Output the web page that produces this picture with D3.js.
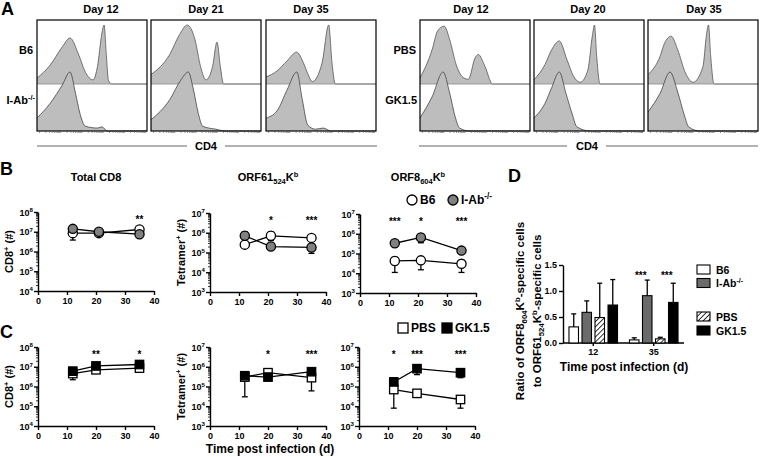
<!DOCTYPE html>
<html><head><meta charset="utf-8">
<script src="https://cdn.jsdelivr.net/npm/d3@7"></script>
<style>
body{margin:0;background:#fff}
svg{display:block}
text{font-family:"Liberation Sans",Arial,Helvetica,sans-serif;font-weight:bold;fill:#000}
</style>
</head><body>
<svg id="c" width="760" height="457"></svg>
<script>
// ================= DATA =================
// Panel A – flow histograms (x: relative CD4 intensity 0-100, y: relative count 0-100)
const histDaysLeft  = ["Day 12","Day 21","Day 35"];
const histDaysRight = ["Day 12","Day 20","Day 35"];
const histRowsLeft  = ["B6","I-Ab^{-/-}"];
const histRowsRight = ["PBS","GK1.5"];
const histTop = [
  [[0,10],[12,32],[23,63],[30,78],[38,49],[44,20],[51,7],[55,30],[59,86],[61,100],[63,50],[65,6],[68,0],[100,0]],
  [[0,16],[17,50],[26,84],[33,100],[40,75],[45,30],[50,7],[56,30],[60,71],[63,30],[66,0],[100,0]],
  [[0,12],[10,22],[19,39],[28,54],[34,36],[39,13],[42,4],[51,36],[57,100],[60,36],[63,0],[100,0]],
  [[0,10],[11,58],[16,90],[22,98],[27,75],[33,32],[40,10],[44,8],[50,44],[53,50],[59,30],[66,0],[100,0]],
  [[0,7],[10,33],[16,58],[23,73],[30,41],[36,13],[42,3],[49,24],[53,81],[55,100],[57,47],[60,0],[100,0]],
  [[0,16],[11,47],[15,69],[21,81],[27,58],[34,19],[41,3],[50,30],[53,81],[55,100],[57,47],[60,0],[100,0]]
];
const histBottom = [
  [[0,22],[12,47],[23,78],[30,100],[35,64],[39,30],[44,8],[55,5],[59,7],[64,0],[100,0]],
  [[0,19],[17,53],[27,86],[34,100],[38,75],[43,30],[47,8],[59,3],[68,0],[100,0]],
  [[0,22],[10,34],[19,69],[28,100],[33,53],[38,10],[45,3],[52,5],[59,0],[100,0]],
  [[0,22],[11,58],[21,100],[27,64],[32,24],[36,5],[45,0],[100,0]],
  [[0,22],[10,47],[16,73],[23,100],[29,64],[35,27],[39,7],[51,0],[100,0]],
  [[0,32],[11,64],[20,100],[27,66],[33,27],[37,7],[47,0],[100,0]]
];

// Panels B / C – cell numbers (log scale)
const xTicks = [0,10,20,30,40];
const daysB = [12,21,35];
const daysC = [12,20,35];

const bTotalB6     = [8.5e6, 8.5e6, 1.3e7];
const bTotalB6Err  = [[3.8e6,1.1e7],[7.5e6,1.0e7],[1.1e7,1.6e7]];
const bTotalIAb    = [1.4e7, 1.0e7, 7.5e6];
const bTotalIAbErr = [[1.2e7,1.7e7],[9e6,1.1e7],[6e6,9e6]];
const bTotalStars  = ["","","**"];

const bOrf61B6     = [2.5e5, 7e5, 5.5e5];
const bOrf61B6Err  = [[2e5,3e5],[4e5,1.1e6],[4.5e5,6.5e5]];
const bOrf61IAb    = [7e5, 2e5, 1.8e5];
const bOrf61IAbErr = [[5e5,1.1e6],[1.6e5,2.5e5],[9e4,2.7e5]];
const bOrf61Stars  = ["","*","***"];

const bOrf8B6      = [4.2e4, 4.5e4, 3e4];
const bOrf8B6Err   = [[1.1e4,6.5e4],[1.5e4,7e4],[1.1e4,4.5e4]];
const bOrf8IAb     = [3.3e5, 6.5e5, 1.4e5];
const bOrf8IAbErr  = [[2.8e5,4e5],[3.5e5,1e6],[1.2e5,1.6e5]];
const bOrf8Stars   = ["***","*","***"];

const cTotalPBS    = [4.5e6, 7e6, 8.5e6];
const cTotalPBSErr = [[2.2e6,5.5e6],[6e6,8e6],[7.5e6,9.5e6]];
const cTotalGK     = [6e6, 1.1e7, 1.3e7];
const cTotalGKErr  = [[5e6,7e6],[9.5e6,1.3e7],[1.1e7,1.5e7]];
const cTotalStars  = ["","**","*"];

const cOrf61PBS    = [3e5, 5e5, 2.8e5];
const cOrf61PBSErr = [[3e4,4e5],[4e5,6e5],[6e4,3.5e5]];
const cOrf61GK     = [3.5e5, 3e5, 5.6e5];
const cOrf61GKErr  = [[2.8e5,5.5e5],[2.5e5,3.5e5],[4.8e5,6.5e5]];
const cOrf61Stars  = ["","*","***"];

const cOrf8PBS     = [7e4, 4.5e4, 2.2e4];
const cOrf8PBSErr  = [[8e3,9e4],[2.8e4,5.5e4],[8e3,2.8e4]];
const cOrf8GK      = [1.7e5, 8e5, 5e5];
const cOrf8GKErr   = [[1.4e5,2.7e5],[4e5,1.1e6],[2.8e5,6e5]];
const cOrf8Stars   = ["*","***","***"];

// Panel D – ratio bars
const dGroups = ["12","35"];
const dSeries = ["B6","I-Ab^{-/-}","PBS","GK1.5"];
const dMeans  = [[0.31,0.59,0.49,0.73],[0.06,0.91,0.08,0.78]];
const dErrHi  = [[0.56,0.81,1.15,1.22],[0.10,1.21,0.11,1.15]];
const dPairStars = [["",""],["***","***"]];
const dYTicks = [0,0.5,1.0,1.5];

// ================= DRAWING =================
const svg = d3.select("#c");
const defs = svg.append("defs");
const hatch = defs.append("pattern").attr("id","hatch").attr("patternUnits","userSpaceOnUse")
  .attr("width",3.6).attr("height",3.6).attr("patternTransform","rotate(45)");
hatch.append("rect").attr("width",3.6).attr("height",3.6).attr("fill","#fff");
hatch.append("line").attr("x1",0).attr("y1",0).attr("x2",0).attr("y2",3.6).attr("stroke","#000").attr("stroke-width",1.6);

function rich(sel, str, size){
  const parts = str.split(/(\^\{[^}]*\}|_\{[^}]*\})/).filter(s=>s.length);
  let cur = 0;
  parts.forEach(p=>{
    let t = p, k = null;
    if (p.startsWith("^{")) { t = p.slice(2,-1); k = "sup"; }
    else if (p.startsWith("_{")) { t = p.slice(2,-1); k = "sub"; }
    const target = k==="sup" ? -0.38*size : k==="sub" ? 0.28*size : 0;
    sel.append("tspan").attr("dy",(target-cur).toFixed(2)).attr("font-size", k ? size*0.68 : size).text(t);
    cur = target;
  });
  return sel;
}
function txt(x,y,str,size,anchor="middle",rot=0){
  const t = svg.append("text").attr("x",x).attr("y",y).attr("text-anchor",anchor).attr("font-size",size);
  if (rot) t.attr("transform",`rotate(${rot},${x},${y})`);
  return rich(t,str,size);
}

// ---------- Panel A ----------
txt(1,15,"A",18,"start");
const boxW = 110, boxTop = 20, boxBot = 131, midY = 84, peakPx = 59;
const boxLefts = [37,151,266,420,534,648];
const dayLabels = histDaysLeft.concat(histDaysRight);
const dayLabelX = [101,206,311,471,588,704];
boxLefts.forEach((bx,i)=>{
  const x = d3.scaleLinear().domain([0,100]).range([bx, bx+boxW]);
  const yT = d3.scaleLinear().domain([0,100]).range([midY, midY-peakPx]);
  const yB = d3.scaleLinear().domain([0,100]).range([boxBot, boxBot-peakPx]);
  const areaT = d3.area().x(d=>x(d[0])).y0(midY).y1(d=>yT(d[1])).curve(d3.curveMonotoneX);
  const lineT = d3.line().x(d=>x(d[0])).y(d=>yT(d[1])).curve(d3.curveMonotoneX);
  const areaB = d3.area().x(d=>x(d[0])).y0(boxBot).y1(d=>yB(d[1])).curve(d3.curveMonotoneX);
  const lineB = d3.line().x(d=>x(d[0])).y(d=>yB(d[1])).curve(d3.curveMonotoneX);
  svg.append("path").attr("d",areaT(histTop[i])).attr("fill","#bdbdbd");
  svg.append("path").attr("d",lineT(histTop[i])).attr("fill","none").attr("stroke","#555").attr("stroke-width",0.8);
  svg.append("line").attr("x1",bx).attr("x2",bx+boxW).attr("y1",midY).attr("y2",midY).attr("stroke","#8a8a8a").attr("stroke-width",0.8);
  svg.append("path").attr("d",areaB(histBottom[i])).attr("fill","#bdbdbd");
  svg.append("path").attr("d",lineB(histBottom[i])).attr("fill","none").attr("stroke","#444").attr("stroke-width",0.8);
  svg.append("rect").attr("x",bx).attr("y",boxTop).attr("width",boxW).attr("height",boxBot-boxTop)
    .attr("fill","none").attr("stroke","#000").attr("stroke-width",1.2);
  // small log ticks under the box
  const lx = d3.scaleLog().domain([1,1e5]).range([bx+2, bx+boxW-2]);
  svg.append("g").attr("transform",`translate(0,${boxBot})`)
    .call(d3.axisBottom(lx).tickSize(2).tickFormat(""))
    .call(g=>{g.select(".domain").remove(); g.selectAll("line").attr("stroke","#555").attr("stroke-width",0.6);});
  txt(dayLabelX[i],13,dayLabels[i],11);
});
txt(33,54,histRowsLeft[0],11,"end");
txt(35,104,histRowsLeft[1],11,"end");
txt(416,54,histRowsRight[0],11,"end");
txt(417,104,histRowsRight[1],11,"end");
// CD4 axis titles
[[37,187,225,377,206],[419,567,606,758,587]].forEach(a=>{
  svg.append("line").attr("x1",a[0]).attr("x2",a[1]).attr("y1",146).attr("y2",146).attr("stroke","#666").attr("stroke-width",1);
  svg.append("line").attr("x1",a[2]).attr("x2",a[3]).attr("y1",146).attr("y2",146).attr("stroke","#666").attr("stroke-width",1);
  txt(a[4],150,"CD4",11);
});

// ---------- Panels B / C ----------
function linePlot(c){
  const w = 116, h = 79;
  const x = d3.scaleLinear().domain([0,40]).range([c.left, c.left+w]);
  const y = d3.scaleLog().domain([c.yMin, c.yMax]).range([c.top+h, c.top]);
  const e0 = Math.round(Math.log10(c.yMin)), e1 = Math.round(Math.log10(c.yMax));
  const decs = d3.range(e0, e1+1).map(e=>Math.pow(10,e));
  const minors = [];
  decs.slice(0,-1).forEach(d=>{ for(let k=2;k<10;k++) minors.push(d*k); });
  const style = g=>{ g.selectAll("line,path").attr("stroke","#000").attr("stroke-width",1.4); };
  svg.append("g").attr("transform",`translate(${c.left},0)`)
    .call(d3.axisLeft(y).tickValues(minors).tickSize(2).tickFormat(""))
    .call(g=>g.select(".domain").remove()).call(g=>g.selectAll("line").attr("stroke","#000").attr("stroke-width",0.8));
  svg.append("g").attr("transform",`translate(${c.left},0)`)
    .call(d3.axisLeft(y).tickValues(decs).tickSize(4).tickSizeOuter(0).tickFormat("")).call(style);
  decs.forEach(d=> txt(c.left-5, y(d)+3.5, "10^{"+Math.round(Math.log10(d))+"}", 9, "end"));
  svg.append("g").attr("transform",`translate(0,${c.top+h})`)
    .call(d3.axisBottom(x).tickValues(xTicks).tickSize(4).tickSizeOuter(0).tickPadding(3))
    .call(style)
    .call(g=>g.selectAll("text").attr("font-size",9).attr("font-family",'"Liberation Sans",Arial,sans-serif').attr("font-weight","bold"));

  const line = d3.line().x((d,i)=>x(c.days[i])).y(d=>y(d));
  c.series.forEach(s=>{
    svg.append("path").attr("d",line(s.v)).attr("fill","none").attr("stroke","#000").attr("stroke-width",1.3);
  });
  c.series.forEach(s=>{
    s.err.forEach((e,i)=>{
      const cx = x(c.days[i]);
      svg.append("line").attr("x1",cx).attr("x2",cx).attr("y1",y(e[0])).attr("y2",y(e[1])).attr("stroke","#000").attr("stroke-width",1.3);
      [e[0],e[1]].forEach(v=>svg.append("line").attr("x1",cx-3).attr("x2",cx+3).attr("y1",y(v)).attr("y2",y(v)).attr("stroke","#000").attr("stroke-width",1.3));
    });
  });
  c.series.forEach(s=>{
    s.v.forEach((v,i)=>{
      const cx = x(c.days[i]), cy = y(v);
      if (c.shape==="circle")
        svg.append("circle").attr("cx",cx).attr("cy",cy).attr("r",4.6).attr("fill",s.fill).attr("stroke","#000").attr("stroke-width",1.3);
      else
        svg.append("rect").attr("x",cx-4.2).attr("y",cy-4.2).attr("width",8.4).attr("height",8.4).attr("fill",s.fill).attr("stroke","#000").attr("stroke-width",1.3);
    });
  });
  c.stars.forEach((s,i)=>{ if(s) txt(x(c.days[i]), c.top+11, s, 10); });
  if (c.ylabel) txt(c.left-25, c.top+h/2, c.ylabel, 11, "middle", -90);
  if (c.title) txt(c.left+w/2, 181, c.title, 11);
}
const gray = "#808080";
txt(0,175,"B",18,"start");
txt(0,338,"C",18,"start");
linePlot({left:38, top:212, yMin:1e4, yMax:1e8, days:daysB, shape:"circle", stars:bTotalStars, ylabel:"CD8^{+} (#)", title:"Total CD8",
  series:[{v:bTotalB6,err:bTotalB6Err,fill:"#fff"},{v:bTotalIAb,err:bTotalIAbErr,fill:gray}]});
linePlot({left:210, top:213, yMin:1e3, yMax:1e7, days:daysB, shape:"circle", stars:bOrf61Stars, ylabel:"Tetramer^{+} (#)", title:"ORF61_{524}K^{b}",
  series:[{v:bOrf61B6,err:bOrf61B6Err,fill:"#fff"},{v:bOrf61IAb,err:bOrf61IAbErr,fill:gray}]});
linePlot({left:360, top:214, yMin:1e3, yMax:1e7, days:daysB, shape:"circle", stars:bOrf8Stars, title:"ORF8_{604}K^{b}",
  series:[{v:bOrf8B6,err:bOrf8B6Err,fill:"#fff"},{v:bOrf8IAb,err:bOrf8IAbErr,fill:gray}]});
linePlot({left:38, top:347, yMin:1e4, yMax:1e8, days:daysC, shape:"square", stars:cTotalStars, ylabel:"CD8^{+} (#)",
  series:[{v:cTotalPBS,err:cTotalPBSErr,fill:"#fff"},{v:cTotalGK,err:cTotalGKErr,fill:"#000"}]});
linePlot({left:210, top:347, yMin:1e3, yMax:1e7, days:daysC, shape:"square", stars:cOrf61Stars, ylabel:"Tetramer^{+} (#)",
  series:[{v:cOrf61PBS,err:cOrf61PBSErr,fill:"#fff"},{v:cOrf61GK,err:cOrf61GKErr,fill:"#000"}]});
linePlot({left:359, top:347, yMin:1e3, yMax:1e7, days:daysC, shape:"square", stars:cOrf8Stars,
  series:[{v:cOrf8PBS,err:cOrf8PBSErr,fill:"#fff"},{v:cOrf8GK,err:cOrf8GKErr,fill:"#000"}]});
txt(270,453,"Time post infection (d)",12);

// legends B / C
svg.append("circle").attr("cx",412).attr("cy",200).attr("r",5).attr("fill","#fff").attr("stroke","#000").attr("stroke-width",1.3);
txt(420,204,"B6",12,"start");
svg.append("circle").attr("cx",453).attr("cy",200).attr("r",5).attr("fill",gray).attr("stroke","#000").attr("stroke-width",1.3);
txt(461,204,"I-Ab^{-/-}",12,"start");
svg.append("rect").attr("x",398).attr("y",323).attr("width",10).attr("height",10).attr("fill","#fff").attr("stroke","#000").attr("stroke-width",1.3);
txt(411,332,"PBS",12,"start");
svg.append("rect").attr("x",442).attr("y",323).attr("width",10).attr("height",10).attr("fill","#000").attr("stroke","#000").attr("stroke-width",1.3);
txt(455,332,"GK1.5",12,"start");

// ---------- Panel D ----------
txt(508,182,"D",18,"start");
const dx0 = d3.scaleBand().domain(dGroups).range([563,684]).paddingInner(0).paddingOuter(0);
const dx1 = d3.scaleBand().domain(dSeries).range([0,dx0.bandwidth()]).paddingInner(0.27).paddingOuter(0.46);
const dy = d3.scaleLinear().domain([0,1.5]).range([343,265]);
const dFills = ["#fff","#6b6b6b","url(#hatch)","#000"];
const dStyle = g=>{ g.selectAll("line,path").attr("stroke","#000").attr("stroke-width",1.4);
  g.selectAll("text").attr("font-size",9).attr("font-family",'"Liberation Sans",Arial,sans-serif').attr("font-weight","bold"); };
svg.append("g").attr("transform","translate(563,0)")
  .call(d3.axisLeft(dy).tickValues(dYTicks).tickFormat(d3.format(".1f")).tickSize(4).tickSizeOuter(0).tickPadding(2)).call(dStyle);
svg.append("g").attr("transform","translate(0,343)")
  .call(d3.axisBottom(dx0).tickSize(3).tickSizeOuter(0).tickPadding(3)).call(dStyle)
  .call(g=>g.select(".domain").attr("d","M563,0H684"));
dGroups.forEach((gk,gi)=>{
  dSeries.forEach((sk,si)=>{
    const bx = dx0(gk)+dx1(sk), bw = dx1.bandwidth(), v = dMeans[gi][si], hi = dErrHi[gi][si];
    const cx = bx+bw/2;
    svg.append("line").attr("x1",cx).attr("x2",cx).attr("y1",dy(v)).attr("y2",dy(hi)).attr("stroke","#000").attr("stroke-width",1.3);
    svg.append("line").attr("x1",cx-2.5).attr("x2",cx+2.5).attr("y1",dy(hi)).attr("y2",dy(hi)).attr("stroke","#000").attr("stroke-width",1.3);
    svg.append("rect").attr("x",bx).attr("y",dy(v)).attr("width",bw).attr("height",dy(0)-dy(v))
      .attr("fill",dFills[si]).attr("stroke","#000").attr("stroke-width",1.1);
  });
  dPairStars[gi].forEach((s,pi)=>{
    if(!s) return;
    const a = dx0(gk)+dx1(dSeries[pi*2])+dx1.bandwidth()/2, b = dx0(gk)+dx1(dSeries[pi*2+1])+dx1.bandwidth()/2;
    txt((a+b)/2, dy(1.5)+14, s, 10);
  });
});
svg.selectAll(".domain").raise();
txt(624,371,"Time post infection (d)",12);
txt(524,311,"Ratio of ORF8_{604}K^{b}-specific cells",11.5,"middle",-90);
txt(541,311,"to ORF61_{524}K^{b}-specific cells",11.5,"middle",-90);
// legend D
const dLegY = [265,278.5,312,326];
dSeries.forEach((s,i)=>{
  svg.append("rect").attr("x",697).attr("y",dLegY[i]).attr("width",13).attr("height",9)
    .attr("fill",dFills[i]).attr("stroke","#000").attr("stroke-width",1.1);
  txt(716,dLegY[i]+8.5,s,10.5,"start");
});
</script>
</body></html>
